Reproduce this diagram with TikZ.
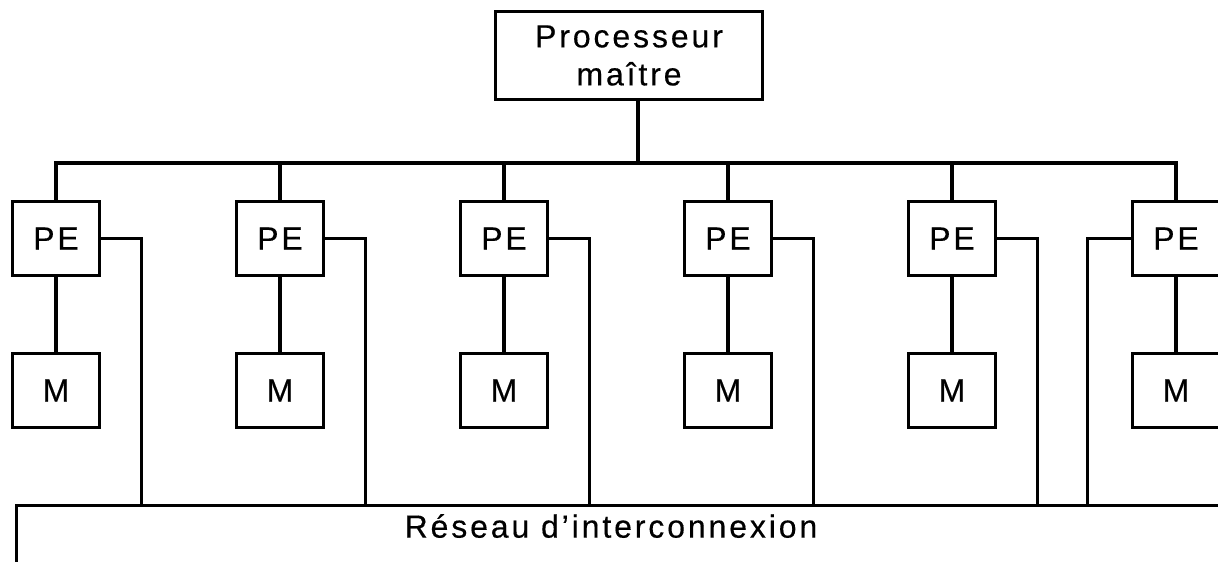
\documentclass[tikz,border=0pt]{standalone}
\usepackage{fontspec}
\setmainfont[LetterSpace=9,FakeBold=0.4]{Liberation Sans}
\begin{document}
\begin{tikzpicture}[x=1pt,y=-1pt,
  wire/.style={line width=3.3pt, line cap=rect},
  box/.style={draw, line width=3.3pt, minimum width=87pt, minimum height=74pt,
    inner sep=0pt, outer sep=0pt, font=\fontsize{32}{38}\selectfont},
  lbl/.style={font=\fontsize{32}{38}\selectfont, inner sep=0pt}]
\useasboundingbox (0,0) rectangle (1218,562);
\clip (0,0) rectangle (1218,562);
\fill[white] (0,0) rectangle (1218,562);
% master processor
\node[box, minimum width=267pt, minimum height=88pt, align=center] (master) at (629,55.5) {Processeur\\maîtr{e}};
% interconnection network (box continues past the picture edges)
\node[draw, line width=3.3pt, minimum width=1300pt, minimum height=150pt, inner sep=0pt, anchor=north west] (net) at (14.5,503.5) {};
\node[lbl] (netlabel) at (611,526) {Réseau d’interconnexion};
% top bus
\coordinate (bus) at (638,163);
\foreach \i/\x in {1/56,2/280,3/504,4/728,5/952,6/1176}{
  \node[box] (pe\i) at (\x,238.5) {PE};
  \node[box] (m\i) at (\x,390.5) {M};
  \draw[wire] (pe\i) -- (m\i);
  \draw[wire] (pe\i.north) -- (pe\i.north |- bus);
}
\draw[wire] ([xshift=9pt]master.south) -- ([xshift=9pt]master.south |- bus);
\draw[wire] (pe1.north |- bus) -- (pe6.north |- bus);
% links from PEs to the network
\foreach \i in {1,...,5}{
  \draw[wire] (pe\i.east) -- ++(42,0) coordinate (t\i) -- (t\i |- net.north);
}
\draw[wire] (pe6.west) -- ++(-45,0) coordinate (t6) -- (t6 |- net.north);
\end{tikzpicture}
\end{document}
